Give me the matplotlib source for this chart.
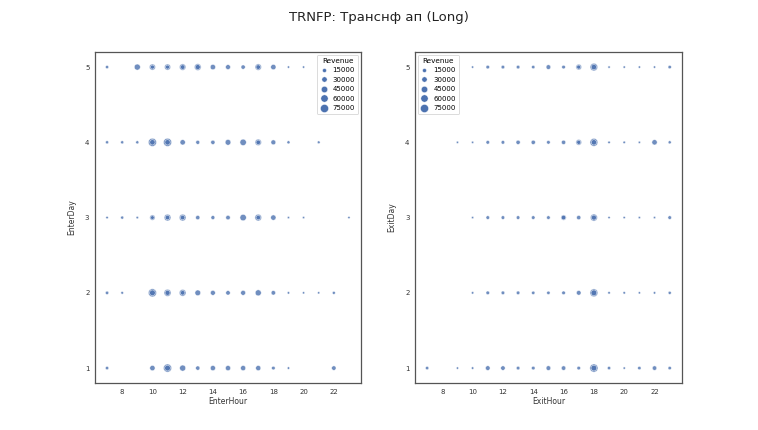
import matplotlib.pyplot as plt
from matplotlib.lines import Line2D

# entries at the same hour/day are separate trades that overlap
enter_hour = [7, 9, 10, 10, 11, 11, 12, 12, 13, 13, 14, 15, 16, 17, 17, 18, 19, 20,
              7, 8, 9, 10, 10, 11, 11, 12, 13, 14, 15, 16, 17, 17, 18, 19, 21,
              7, 8, 9, 10, 10, 11, 11, 12, 12, 13, 14, 15, 16, 17, 17, 18, 19, 20, 23,
              7, 8, 10, 10, 11, 11, 12, 12, 13, 14, 15, 16, 17, 18, 19, 20, 21, 22,
              7, 10, 11, 11, 12, 13, 14, 15, 16, 17, 18, 19, 22]
enter_day = [5] * 18 + [4] * 17 + [3] * 19 + [2] * 18 + [1] * 13
enter_rev = [9000, 40000, 40000, 15000, 40000, 15000, 45000, 20000, 50000, 25000, 30000, 25000, 18000, 45000, 20000, 30000, 3000, 3000,
             8000, 8000, 8000, 75000, 30000, 75000, 30000, 30000, 15000, 18000, 35000, 45000, 45000, 20000, 25000, 8000, 6000,
             4000, 8000, 4000, 30000, 12000, 50000, 20000, 50000, 20000, 18000, 15000, 20000, 45000, 50000, 20000, 30000, 3000, 3000, 3000,
             10000, 5000, 75000, 35000, 55000, 25000, 50000, 20000, 35000, 25000, 20000, 25000, 40000, 20000, 4000, 3000, 3000, 7000,
             10000, 30000, 75000, 35000, 40000, 18000, 28000, 28000, 28000, 28000, 12000, 4000, 20000]

exit_hour = [10, 11, 12, 13, 14, 15, 16, 17, 17, 18, 18, 19, 20, 21, 22, 23,
             9, 10, 11, 12, 13, 14, 15, 16, 17, 17, 18, 18, 19, 20, 21, 22, 23,
             10, 11, 12, 13, 14, 15, 16, 16, 17, 18, 18, 19, 20, 21, 22, 23,
             10, 11, 12, 13, 14, 15, 16, 17, 18, 18, 19, 20, 21, 22, 23,
             7, 9, 10, 11, 12, 13, 14, 15, 16, 17, 18, 18, 19, 20, 21, 22, 23]
exit_day = [5] * 16 + [4] * 17 + [3] * 16 + [2] * 15 + [1] * 17
exit_rev = [3000, 12000, 12000, 12000, 10000, 22000, 12000, 35000, 15000, 65000, 30000, 3000, 3000, 3000, 3000, 10000,
            3000, 3000, 12000, 12000, 18000, 18000, 12000, 18000, 35000, 15000, 70000, 30000, 4000, 4000, 3000, 30000, 8000,
            3000, 12000, 12000, 12000, 12000, 12000, 30000, 20000, 18000, 55000, 25000, 3000, 3000, 3000, 3000, 12000,
            4000, 12000, 12000, 12000, 10000, 10000, 12000, 22000, 70000, 35000, 4000, 4000, 3000, 4000, 8000,
            10000, 3000, 4000, 22000, 20000, 12000, 12000, 22000, 20000, 12000, 75000, 35000, 10000, 3000, 10000, 20000, 10000]

legend_rev = [15000, 30000, 45000, 60000, 75000]

BLUE = '#4c72b0'
EDGE = '#555555'
SCALE = 2300.0  # revenue per point^2 of marker area
BASE = 1.5      # minimum marker area


def msize(r):
    return BASE + r / SCALE


fig = plt.figure(figsize=(7.58, 4.3), dpi=100)
fig.suptitle('TRNFP: Транснф ап (Long)', fontsize=9.5, y=0.975, color='#222222')

ax1 = fig.add_axes([0.1253, 0.109, 0.351, 0.770])
ax2 = fig.add_axes([0.5475, 0.109, 0.352, 0.770])

panels = [
    (ax1, enter_hour, enter_day, enter_rev, 'EnterHour', 'EnterDay', 'upper right'),
    (ax2, exit_hour, exit_day, exit_rev, 'ExitHour', 'ExitDay', 'upper left'),
]

for ax, hours, days, rev, xl, yl, loc in panels:
    ax.scatter(hours, days, s=[msize(r) for r in rev], color=BLUE, alpha=0.8,
               edgecolors='white', linewidths=0.4, zorder=3)
    ax.set_xlim(6.2, 23.8)
    ax.set_ylim(0.8, 5.2)
    ax.set_xticks([8, 10, 12, 14, 16, 18, 20, 22])
    ax.set_yticks([1, 2, 3, 4, 5])
    ax.tick_params(length=0, labelsize=5, pad=4, colors='#333333')
    ax.set_xlabel(xl, fontsize=5.5, labelpad=2, color='#333333')
    ax.set_ylabel(yl, fontsize=5.5, labelpad=6, color='#333333')
    for sp in ax.spines.values():
        sp.set_color(EDGE)
        sp.set_linewidth(0.9)

    handles = [Line2D([], [], linestyle='none', marker='o', color=BLUE,
                      markeredgecolor='white', markeredgewidth=0.3,
                      markersize=msize(r) ** 0.5) for r in legend_rev]
    leg = ax.legend(handles, [str(r) for r in legend_rev], title='Revenue',
                    loc=loc, fontsize=5, title_fontsize=5.2, frameon=True,
                    handletextpad=0.8, labelspacing=0.5, borderpad=0.45,
                    handlelength=1.0, borderaxespad=0.4)
    leg.get_frame().set_edgecolor('#cccccc')
    leg.get_frame().set_linewidth(0.6)

fig.savefig('out.png', dpi=100)
